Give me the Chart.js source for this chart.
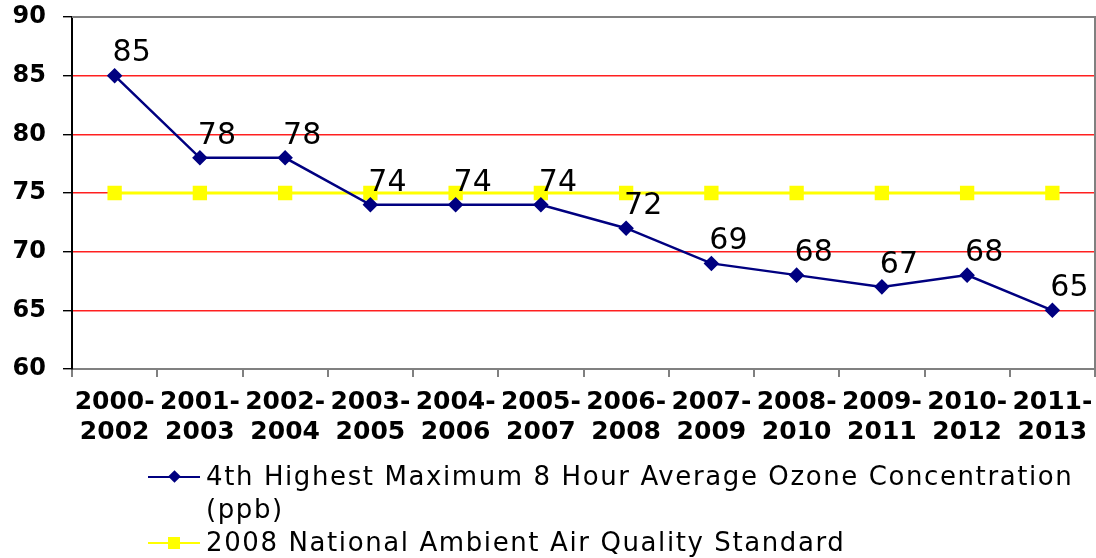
<!DOCTYPE html>
<html>
<head>
<meta charset="utf-8"/>
<style>
  html,body{margin:0;padding:0;background:#fff;}
  .wrap{position:relative;width:1096px;height:558px;}
  canvas{position:absolute;left:0;top:0;}
  #legend{position:absolute;left:148px;top:460px;font-family:"DejaVu Sans",sans-serif;font-size:26px;letter-spacing:1.6px;color:#000;}
  .item{display:flex;align-items:flex-start;line-height:33px;}
  .swatch{position:relative;width:52px;height:33px;flex:none;margin-right:6px;}
  .swatch .ln{position:absolute;left:0;right:0;top:16px;height:2px;}
  .swatch .mk{position:absolute;left:50%;top:50%;}
  .txt{width:890px;}
</style>
</head>
<body>
<div class="wrap">
  <canvas id="c" width="1096" height="558"></canvas>
  <div id="legend"></div>
</div>
<script src="https://cdn.jsdelivr.net/npm/chart.js@4.4.0/dist/chart.umd.min.js"></script>
<script>
  // datos
  const periods  = [['2000-','2002'],['2001-','2003'],['2002-','2004'],['2003-','2005'],['2004-','2006'],['2005-','2007'],
                    ['2006-','2008'],['2007-','2009'],['2008-','2010'],['2009-','2011'],['2010-','2012'],['2011-','2013']];
  const ozone    = [85, 78, 78, 74, 74, 74, 72, 69, 68, 67, 68, 65];
  const standard = [75, 75, 75, 75, 75, 75, 75, 75, 75, 75, 75, 75];
  const ozoneLabel    = '4th Highest Maximum 8 Hour Average Ozone Concentration (ppb)';
  const standardLabel = '2008 National Ambient Air Quality Standard';

  const NAVY = '#000080', YEL = '#FFFF00';

  const valueLabels = {
    id:'valueLabels',
    afterDatasetsDraw(chart){
      const ctx = chart.ctx, meta = chart.getDatasetMeta(0);
      ctx.save();
      ctx.font = '30px "DejaVu Sans"';
      ctx.fillStyle = '#000';
      ctx.textAlign = 'center';
      ctx.textBaseline = 'middle';
      meta.data.forEach((pt,i) => ctx.fillText(String(ozone[i]), pt.x + 17, pt.y - 22));
      ctx.restore();
    }
  };

  const frame = {
    id:'frame',
    beforeDatasetsDraw(chart){
      const {ctx, chartArea:a} = chart;
      ctx.save();
      ctx.strokeStyle = '#808080'; ctx.lineWidth = 2;
      ctx.beginPath();
      ctx.moveTo(a.left, a.top); ctx.lineTo(a.right, a.top); ctx.lineTo(a.right, a.bottom);
      ctx.stroke();
      ctx.restore();
    }
  };

  const noPad = s => { s.paddingTop = 0; s.paddingBottom = 0; s.paddingLeft = 0; s.paddingRight = 0; };

  const chart = new Chart(document.getElementById('c'), {
    type:'line',
    data:{
      labels: periods,
      datasets:[
        { label: ozoneLabel, data: ozone, borderColor:NAVY, backgroundColor:NAVY, borderWidth:2.5,
          pointStyle:'rectRot', pointRadius:6, pointHoverRadius:6, tension:0, order:0 },
        { label: standardLabel, data: standard, borderColor:YEL, backgroundColor:YEL, borderWidth:3,
          pointStyle:'rect', pointRadius:8, pointHoverRadius:8, tension:0, order:1 }
      ]
    },
    options:{
      responsive:false, animation:false,
      layout:{ autoPadding:false, padding:{ top:17, right:1, bottom:0, left:0 } },
      plugins:{ legend:{display:false}, tooltip:{enabled:false} },
      scales:{
        x:{ offset:true,
            afterFit(s){ s.height = 189; noPad(s); },
            grid:{ offset:true, drawOnChartArea:false, drawTicks:true, tickLength:8, color:'#808080', lineWidth:2 },
            border:{ color:'#808080', width:2 },
            ticks:{ color:'#000', autoSkip:false, maxRotation:0, padding:10,
                    font:{ family:'DejaVu Sans', size:25, weight:'bold', lineHeight:1.2 } } },
        y:{ min:60, max:90,
            afterFit(s){ s.width = 72; noPad(s); },
            grid:{ tickLength:9, lineWidth:1.4,
                   color: c => (c.tick.value === 90 ? '#808080' : c.tick.value === 60 ? '#000' : '#FF2020'),
                   tickColor:'#000' },
            border:{ color:'#000', width:2 },
            ticks:{ stepSize:5, color:'#000', padding:17,
                    font:{ family:'DejaVu Sans', size:24, weight:'bold' } } }
      }
    },
    plugins:[frame, valueLabels]
  });

  // leyenda en HTML para permitir el salto de línea
  const marks = [
    '<div class="mk" style="width:9px;height:9px;margin:-4.5px 0 0 -4.5px;background:'+NAVY+';transform:rotate(45deg)"></div>',
    '<div class="mk" style="width:12px;height:12px;margin:-6px 0 0 -6px;background:'+YEL+'"></div>'
  ];
  document.getElementById('legend').innerHTML = chart.data.datasets.map((d,i) =>
    '<div class="item"><div class="swatch"><div class="ln" style="background:'+d.borderColor+'"></div>'+marks[i]+
    '</div><div class="txt">'+d.label+'</div></div>').join('');
</script>
</body>
</html>
